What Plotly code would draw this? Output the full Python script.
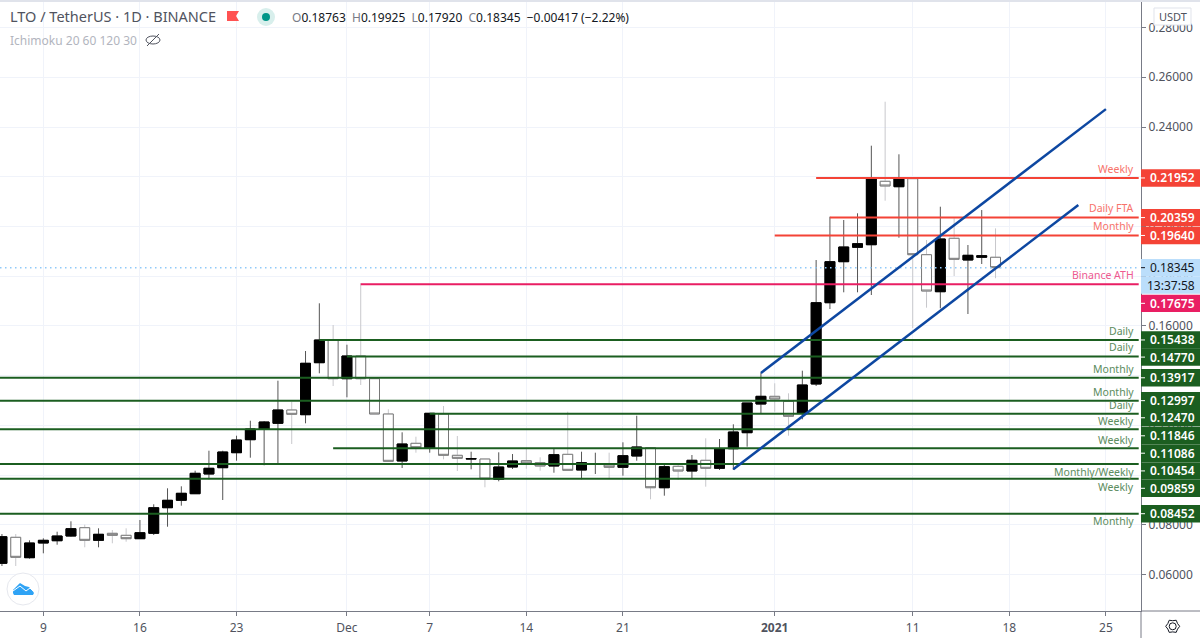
import math
import pandas as pd
import plotly.graph_objects as go

W, H = 1200, 638
L, R, T, B = 0, 59, 2, 27
PW, PH = W - L - R, H - T - B

dates = pd.date_range("2020-11-06", "2021-01-17").strftime("%Y-%m-%d").tolist()
opens = [.06457,.07503,.06683,.07274,.07366,.07555,.07889,.07382,.07664,.07583,.07447,.07664,.08693,.08991,.09256,.10048,.10302,.10905,.11428,.11858,.12087,.12622,.12433,.14524,.15436,
         .1388,.14793,.1388,.12461,.10571,.11283,.11094,.12461,.108,.10648,.10651,.09835,.1033,.10583,.10503,.1037,.1084,.10209,.1045,.1041,.10318,.10772,.11106,.09497,.10358,.10169,.10599,.10278,.11065,.11709,.12863,
         .13172,.12971,.12489,.13667,.16936,.18585,.19164,.19268,.21818,.216,.21922,.18866,.17378,.19526,.18653,.18763,.18763]
highs = [.07635,.07635,.07382,.07463,.07728,.08146,.0801,.07865,.07797,.07865,.08199,.0883,.09473,.09554,.10181,.10985,.10985,.11588,.12191,.12179,.138,.12955,.14994,.16912,.1604,
         .15248,.17716,.13937,.1265,.11725,.11548,.12489,.12783,.11576,.10945,.10651,.10921,.10852,.11106,.1072,.11094,.12553,.10945,.10905,.10905,.11323,.12392,.1112,.10438,.10479,.10812,.11484,.11456,.12047,.12903,.14122,
         .13695,.13293,.14202,.18653,.20394,.20261,.20531,.23249,.25018,.22903,.21938,.19457,.20796,.2033,.19256,.20663,.19925]
lows = [.06349,.06349,.06642,.0686,.07205,.07527,.07101,.07101,.07262,.07326,.07435,.07596,.07929,.08774,.09256,.09835,.09003,.10583,.10704,.10398,.10438,.11255,.12087,.14097,.13587,
        .13132,.13627,.12461,.10559,.1029,.10905,.10905,.10639,.10169,.10237,.09514,.09755,.10249,.10261,.10181,.101,.10197,.09835,.10048,.09875,.0998,.10583,.09031,.09176,.09807,.09835,.09538,.10209,.10209,.11146,.12489,
        .12553,.11588,.12248,.13587,.16683,.17354,.17354,.17246,.21037,.1955,.15919,.16735,.16711,.18009,.16482,.18492,.1792]
closes = [.07527,.06699,.07274,.07382,.07555,.07849,.07382,.07624,.07583,.07447,.07688,.08693,.08991,.09272,.10076,.10278,.10933,.11415,.11858,.12139,.12622,.12449,.145,.15436,.1388,
          .14793,.1388,.12461,.10559,.11255,.11106,.12489,.108,.1068,.10668,.09847,.1033,.10571,.10491,.1037,.10824,.10197,.10503,.1047,.10318,.10784,.11134,.09497,.10342,.10169,.10599,.10278,.11053,.11737,.12903,.13172,
          .13064,.12368,.13627,.16936,.18585,.19176,.19309,.21938,.21629,.21938,.18866,.17406,.19498,.18681,.18842,.18826,.18345]

AXIS_START, AXIS_END, LINE_END = "2020-11-05 20:38", "2021-01-27 13:00", "2021-01-27 09:00"
tick_dates = ["2020-11-09","2020-11-16","2020-11-23","2020-12-01","2020-12-07","2020-12-14","2020-12-21","2021-01-01","2021-01-11","2021-01-18","2021-01-25"]
tick_text = ["9","16","23","Dec","7","14","21","<b>2021</b>","11","18","25"]
y_ticks = [.06,.08,.10,.12,.14,.16,.18,.20,.22,.24,.26,.28]

GREEN, RED, PINK, BLUE = "#1b5e20", "#f44336", "#e91e63", "#0d47a1"
lev_values = [.21952,.20359,.19640,.17675,.15438,.14770,.13917,.12997,.12470,.11846,.11086,.10454,.09859,.08452]
lev_starts = ["2021-01-04","2021-01-05","2021-01-01","2020-12-02","2020-11-29","2020-12-01",AXIS_START,AXIS_START,"2020-12-07",AXIS_START,"2020-11-30",AXIS_START,AXIS_START,AXIS_START]
lev_colors = [RED,RED,RED,PINK]+[GREEN]*10
lev_labels = ["Weekly","Daily FTA","Monthly","Binance ATH","Daily","Daily","Monthly","Monthly","Daily","Weekly","Weekly","Monthly/Weekly","Weekly","Monthly"]
lab_offset = [-9,-9.5,-9,-9,-9,-9.5,-9,-9,-9,-8.5,-8.5,8,8,7.5]
tag_offset = [0,0,0,19,0,0.5,0,0,4,6.5,5,7,9.6,0]
lab_color = {RED:"#f7736c", PINK:"#ee5a90", GREEN:"#5c8c60"}
upper_x, upper_y = ["2020-12-31","2021-01-25"], [.1411,.2472]
lower_x, lower_y = ["2020-12-29","2021-01-23"], [.10237,.20864]
last_price = .18345

fig = go.Figure()

def hline(v, start, color, width=2, dash=None):
    fig.add_trace(go.Scatter(x=[start, LINE_END], y=[v, v], mode="lines", showlegend=False, hoverinfo="skip",
                             line=dict(color=color, width=width, dash=dash)))

for v, s, c in zip(lev_values, lev_starts, lev_colors):
    if c == GREEN:
        hline(v, s, c)

fig.add_trace(go.Candlestick(x=dates, open=opens, high=highs, low=lows, close=closes, showlegend=False, hoverinfo="skip",
                             whiskerwidth=0,
                             increasing=dict(line=dict(color="#555555", width=1), fillcolor="#000000"),
                             decreasing=dict(line=dict(color="#c8c8cc", width=1), fillcolor="#ffffff")))
fig.add_trace(go.Candlestick(x=dates, open=opens, close=closes,
                             high=[max(a, b) for a, b in zip(opens, closes)],
                             low=[min(a, b) for a, b in zip(opens, closes)],
                             showlegend=False, hoverinfo="skip", whiskerwidth=0,
                             increasing=dict(line=dict(color="#000000", width=1), fillcolor="#000000"),
                             decreasing=dict(line=dict(color="#777777", width=1), fillcolor="#ffffff")))

for v, s, c in zip(lev_values, lev_starts, lev_colors):
    if c != GREEN:
        hline(v, s, c)
hline(last_price, AXIS_START, "#90caf9", width=1.5, dash="1.5px,3.5px")
for xs, ys in ((upper_x, upper_y), (lower_x, lower_y)):
    fig.add_trace(go.Scatter(x=xs, y=ys, mode="lines", showlegend=False, hoverinfo="skip",
                             line=dict(color=BLUE, width=2.5)))

def px(x): return (x - L) / PW
def py(y): return (H - B - y) / PH
def path(points, close=True):
    s = "M" + " L".join(f"{px(a):.5f},{py(b):.5f}" for a, b in points)
    return s + (" Z" if close else "")

shapes, annos = [], []
def poly(points, fill=None, line=None, width=1, close=True):
    shapes.append(dict(type="path", xref="paper", yref="paper", path=path(points, close), layer="above",
                       fillcolor=fill or "rgba(0,0,0,0)", line=dict(color=line or "rgba(0,0,0,0)", width=width)))
def circ(cx, cy, r, fill=None, line=None, width=1, ry=None):
    ry = ry or r
    shapes.append(dict(type="circle", xref="paper", yref="paper", x0=px(cx-r), x1=px(cx+r), y0=py(cy+ry), y1=py(cy-ry), layer="above",
                       fillcolor=fill or "rgba(0,0,0,0)", line=dict(color=line or "rgba(0,0,0,0)", width=width)))
def text(x, y, s, size=12, color="#131722", anchor="left"):
    annos.append(dict(xref="paper", yref="paper", x=px(x), y=py(y), text=s, showarrow=False, xanchor=anchor, yanchor="middle",
                      font=dict(size=size, color=color), borderpad=0))

poly([(0,0),(W,0),(W,2),(0,2)], fill="#e0e3eb")
poly([(PW,H-B),(PW,H)], line="#787b86", close=False)
poly([(PW,H-B),(W,H-B)], line="#787b86", close=False)

def tag(v, shift, fill, label, color="#ffffff", tick="#ffffff", weight=600):
    shapes.append(dict(type="rect", xref="paper", yref="y", x0=1, x1=px(W), ysizemode="pixel", yanchor=v,
                       y0=-shift-8.7, y1=-shift+8.7, fillcolor=fill, line=dict(width=0), layer="above"))
    shapes.append(dict(type="line", xref="paper", yref="y", x0=1, x1=px(PW+4), ysizemode="pixel", yanchor=v,
                       y0=-shift, y1=-shift, line=dict(color=tick, width=1), layer="above"))
    annos.append(dict(xref="paper", yref="y", x=px(PW+8), y=v, yshift=-shift, text=label, showarrow=False, xanchor="left", yanchor="middle",
                      font=dict(size=12, color=color, weight=weight), borderpad=0))

for v, c, lab, lo, to in zip(lev_values, lev_colors, lev_labels, lab_offset, tag_offset):
    tag(v, to, c, f"{v:.5f}")
    annos.append(dict(xref="paper", yref="y", x=px(1135), y=v, yshift=-lo, text=lab, showarrow=False, xanchor="right", yanchor="middle",
                      font=dict(size=10.5, color=lab_color[c]), borderpad=0))
tag(last_price, 0, "#bbdefb", f"{last_price:.5f}", color="#131722", tick="#131722", weight=400)
shapes.append(dict(type="rect", xref="paper", yref="y", x0=1, x1=px(W), ysizemode="pixel", yanchor=last_price,
                   y0=-26, y1=-8.7, fillcolor="#bbdefb", line=dict(width=0), layer="above"))
annos.append(dict(xref="paper", yref="y", x=px(PW+5), y=last_price, yshift=-17.5, text="13:37:58", showarrow=False, xanchor="left", yanchor="middle",
                  font=dict(size=12, color="#131722"), borderpad=0))

poly([(1154,8),(1191,8),(1191,25),(1154,25)], fill="#ffffff", line="#e0e3eb")
text(1172.5, 17, "USDT", size=11, color="#50535e", anchor="center")

text(9, 16, "LTO / TetherUS · 1D · BINANCE", size=14.5, color="#50535e")
poly([(227,11),(239,11),(236,16),(239,21),(227,21)], fill="#ff5252")
circ(266, 17, 9, fill="#d8efec")
circ(266, 17, 4, fill="#009688")
O = '<span style="color:#787b86">%s</span>%s'
text(291, 18, "  ".join([O % ("O","0.18763"), O % ("H","0.19925"), O % ("L","0.17920"), O % ("C","0.18345"), "−0.00417 (−2.22%)"]), size=12, color="#131722")
text(9, 40, "Ichimoku 20 60 120 30", size=12, color="#b2b5be")
circ(153, 40, 7, line="#50535e", ry=4)
poly([(147,46),(159,34)], line="#50535e", close=False)

circ(23, 589, 16, fill="#ffffff", line="#e6e8ee")
poly([(13,593),(13,590),(16,587),(20,583),(25,586),(29,587),(32,590),(34,593),(33,595),(14,595)], fill="#2fa3f5")
poly([(13,591),(20,586),(26,591),(30,588),(33,591)], line="#ffffff", width=1, close=False)

gx, gy = 1172.7, 626.3
poly([(gx+(7 if i % 2 == 0 else 5.6)*math.cos(i*math.pi/6), gy+(7 if i % 2 == 0 else 5.6)*math.sin(i*math.pi/6)) for i in range(12)], line="#131722")
circ(gx, gy, 3.5, line="#131722")

fig.update_layout(
    width=W, height=H, margin=dict(l=L, r=R, t=T, b=B), paper_bgcolor="#ffffff", plot_bgcolor="#ffffff",
    font=dict(family="Noto Sans, Open Sans, sans-serif", size=12, color="#50535e"), boxgap=0.28, boxgroupgap=0,
    shapes=shapes, annotations=annos, showlegend=False,
    xaxis=dict(type="date", range=[AXIS_START, AXIS_END], rangeslider=dict(visible=False), tickmode="array", tickvals=tick_dates, ticktext=tick_text,
               showgrid=True, gridcolor="#f0f3fa", gridwidth=1, zeroline=False, showline=True, linecolor="#787b86", linewidth=1,
               ticks="outside", ticklen=4, tickcolor="#787b86", tickangle=0, ticklabelstandoff=2, tickfont=dict(size=12, color="#50535e")),
    yaxis=dict(side="right", range=[.0454, .29027], tickmode="array", tickvals=y_ticks, tickformat=".5f",
               showgrid=True, gridcolor="#f0f3fa", gridwidth=1, zeroline=False, showline=True, linecolor="#787b86", linewidth=1,
               ticks="outside", ticklen=4, tickcolor="#787b86", tickfont=dict(size=12, color="#50535e")),
)
fig.write_html("out.html", config={"displayModeBar": False},
               post_script="document.body.style.margin='0';document.body.style.overflow='hidden';")
